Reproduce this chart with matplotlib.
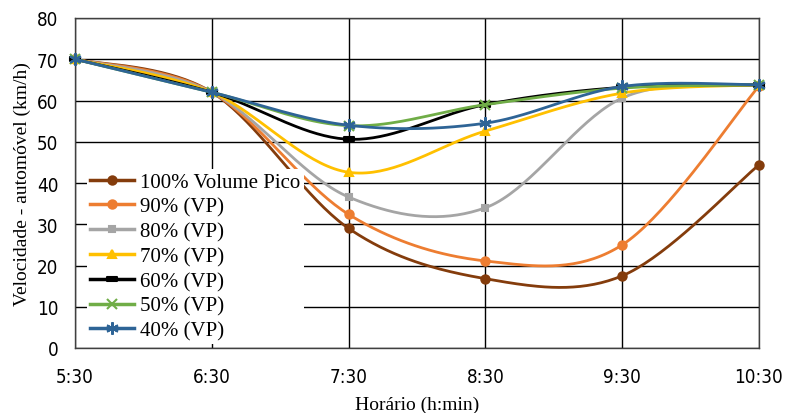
import numpy as np
import matplotlib
matplotlib.use("Agg")
import matplotlib.pyplot as plt
from matplotlib.lines import Line2D
from matplotlib.path import Path
from matplotlib import font_manager

horarios = ["5:30", "6:30", "7:30", "8:30", "9:30", "10:30"]

vp100 = [70, 62, 29.0, 16.8, 17.5, 44.4]
vp90 = [70, 62, 32.4, 21.1, 25.0, 63.5]
vp80 = [70, 62, 36.6, 34.0, 60.6, 63.7]
vp70 = [70, 62, 42.6, 52.6, 61.8, 63.8]
vp60 = [70, 62, 50.6, 59.0, 63.2, 63.8]
vp50 = [70, 62, 53.9, 59.0, 63.0, 63.8]
vp40 = [70, 62, 54.0, 54.5, 63.4, 63.8]

rotulos = ["100% Volume Pico", "90% (VP)", "80% (VP)", "70% (VP)",
           "60% (VP)", "50% (VP)", "40% (VP)"]
cores = ["#843C0C", "#ED7D31", "#A5A5A5", "#FFC000", "#000000", "#70AD47", "#2E6496"]

traco = Path([(-1, -0.35), (1, -0.35), (1, 0.35), (-1, 0.35), (-1, -0.35)],
             [Path.MOVETO, Path.LINETO, Path.LINETO, Path.LINETO, Path.CLOSEPOLY])
marcadores = ["o", "o", "s", "^", traco, "x", (6, 2, 0)]
tamanhos = [6, 6, 5, 6, 7, 7, 9]


def suave(x, y, n=40):
    # curva suavizada tipo excel (bezier com controle de catmull-rom)
    x = np.asarray(x, float)
    y = np.asarray(y, float)
    px, py = [], []
    k = len(x)
    for i in range(k - 1):
        a = max(i - 1, 0)
        b = min(i + 2, k - 1)
        c1x = x[i] + (x[i + 1] - x[a]) / 6
        c1y = y[i] + (y[i + 1] - y[a]) / 6
        c2x = x[i + 1] - (x[b] - x[i]) / 6
        c2y = y[i + 1] - (y[b] - y[i]) / 6
        t = np.linspace(0, 1, n)
        bx = (1 - t) ** 3 * x[i] + 3 * (1 - t) ** 2 * t * c1x + 3 * (1 - t) * t ** 2 * c2x + t ** 3 * x[i + 1]
        by = (1 - t) ** 3 * y[i] + 3 * (1 - t) ** 2 * t * c1y + 3 * (1 - t) * t ** 2 * c2y + t ** 3 * y[i + 1]
        px.extend(bx)
        py.extend(by)
    return px, py


fig = plt.figure(figsize=(7.85, 4.14), dpi=100)
ax = fig.add_axes([75 / 785, 65 / 414, 684 / 785, 330 / 414])

xs = np.arange(len(horarios))
series = [vp100, vp90, vp80, vp70, vp60, vp50, vp40]
handles = []
for i, s in enumerate(series):
    sx, sy = suave(xs, s)
    ax.plot(sx, sy, color=cores[i], lw=2.0, zorder=3 + i, solid_capstyle="round")
    ax.plot(xs, s, ls="none", marker=marcadores[i], ms=tamanhos[i], color=cores[i],
            mec=cores[i], mew=1.5, zorder=3 + i, clip_on=False)
    handles.append(Line2D([], [], color=cores[i], lw=2.5, marker=marcadores[i],
                          ms=tamanhos[i], mec=cores[i], mew=1.5))

ax.set_xlim(0, 5)
ax.set_ylim(0, 80)
ax.set_xticks(xs)
ax.set_xticklabels(horarios)
ax.set_yticks(range(0, 81, 10))
ax.grid(True, color="black", lw=1.0)
ax.set_axisbelow(True)
for sp in ax.spines.values():
    sp.set_color("#404040")
    sp.set_linewidth(1.0)
ax.tick_params(length=0)
ax.tick_params(axis="x", pad=14)
ax.tick_params(axis="y", pad=12)

fp_tick = font_manager.FontProperties(family="DejaVu Sans", stretch="condensed", size=13.5)
for lb in ax.get_xticklabels() + ax.get_yticklabels():
    lb.set_fontproperties(fp_tick)

ax.set_xlabel("Horário (h:min)", family="Liberation Serif", fontsize=14, labelpad=7)
ax.set_ylabel("Velocidade - automóvel (km/h)", family="Liberation Serif", fontsize=14, labelpad=4)

leg = ax.legend(handles, rotulos, loc="lower left", bbox_to_anchor=(0.012, 0.0),
                prop={"family": "Liberation Serif", "size": 15}, frameon=True,
                edgecolor="none", facecolor="white", framealpha=1.0, fancybox=False,
                handlelength=2.1, handletextpad=0.3, labelspacing=0.25,
                borderpad=0.15, borderaxespad=0.2)
leg.set_zorder(20)

fig.savefig("out.png", dpi=100)
